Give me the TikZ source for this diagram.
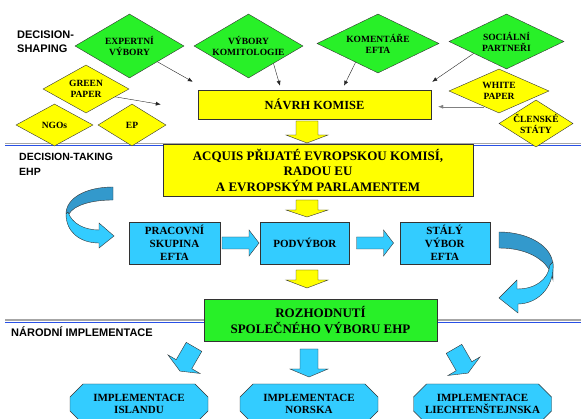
\documentclass[tikz,border=0pt]{standalone}
\usepackage{fontspec}
\setmainfont{Liberation Serif}
\setsansfont{Liberation Sans}
\definecolor{zelena}{RGB}{40,240,40}
\definecolor{zluta}{RGB}{255,255,0}
\definecolor{modra}{RGB}{51,204,255}
\definecolor{tmodra}{RGB}{51,153,204}
\definecolor{cara}{RGB}{40,80,230}
\usetikzlibrary{arrows.meta, positioning, shapes.geometric, shapes.misc}

\tikzset{
  pics/blok/.style n args={4}{code={
    \path[pic actions] (-#1/2,-#2/2) -- ({#1/2-#4},-#2/2) -- ({#1/2-#4},-#3/2) -- (#1/2,0)
      -- ({#1/2-#4},#3/2) -- ({#1/2-#4},#2/2) -- (-#1/2,#2/2) -- cycle;
  }}
}

\begin{document}
\begin{tikzpicture}[x=1pt, y=-1pt, thin, inner sep=0pt,
  dia/.style={diamond, draw=black!80, aspect=1.7, inner sep=-2pt, align=center,
    font=\fontsize{9.5}{11}\selectfont\bfseries},
  box/.style={rectangle, draw=black!80, align=center},
  okt/.style={chamfered rectangle, chamfered rectangle xsep=12pt, draw=black!80, fill=modra,
    minimum width=138pt, minimum height=40pt, align=center, font=\fontsize{11}{12.5}\selectfont\bfseries},
  hlava/.style={anchor=west, align=left, font=\sffamily\bfseries\fontsize{11}{14}\selectfont},
  sipka/.style={-{Latex[length=5pt,width=4pt]}, black!85},
  yarr/.style={draw=black!80, fill=zluta, rotate=-90},
  barr/.style={draw=black!80, fill=modra}]

\clip (0,0) rectangle (581,419);

% separators
\draw[gray!70, line width=1.2pt] (5,143.5) -- (581,143.5);
\draw[cara, line width=0.9pt] (5,145.7) -- (581,145.7);
\draw[gray!70, line width=1.2pt] (5,320) -- (581,320);
\draw[cara, line width=0.9pt] (5,322.2) -- (581,322.2);

% decision-shaping
\node[hlava] (hs) at (17,42) {DECISION-\\SHAPING};
\node[dia, fill=zelena, minimum width=109pt, minimum height=64pt] (exp) at (129.5,46) {EXPERTNÍ\\VÝBORY};
\node[dia, fill=zelena, minimum width=109pt, minimum height=64pt] (kom) at (248.5,46) {VÝBORY\\KOMITOLOGIE};
\node[dia, fill=zelena, minimum width=122pt, minimum height=59pt, aspect=2] (kef) at (378,43.5) {KOMENTÁŘE\\EFTA};
\node[dia, fill=zelena, minimum width=115pt, minimum height=55pt, aspect=2] (soc) at (506.5,41.5) {SOCIÁLNÍ\\PARTNEŘI};
\node[dia, fill=zluta, minimum width=86pt, minimum height=48pt] (gp) at (86,89) {GREEN\\PAPER};
\node[dia, fill=zluta, minimum width=77pt, minimum height=42pt] (ngo) at (54.5,125) {NGOs};
\node[dia, fill=zluta, minimum width=68pt, minimum height=42pt] (ep) at (132,125) {EP};
\node[dia, fill=zluta, minimum width=100pt, minimum height=44pt, aspect=2.2] (wp) at (499,91) {WHITE\\PAPER};
\node[dia, fill=zluta, minimum width=74pt, minimum height=47pt, aspect=1.5] (cs) at (536,123.5) {ČLENSKÉ\\STÁTY};
\node[box, fill=zluta, minimum width=233pt, minimum height=29pt,
  font=\fontsize{12.4}{14}\selectfont\bfseries] (navrh) at (314.5,104.5) {NÁVRH KOMISE};

\draw[sipka] (exp) -- ([shift={(-5,-8)}]navrh.north west);
\draw[sipka] (kom.-35) -- ([shift={(-34.5,-4)}]navrh.north);
\draw[sipka] (kef.-140) -- ([shift={(29.5,-4)}]navrh.north);
\draw[sipka] (soc.-160) -- ([shift={(1,-8)}]navrh.north east);
\draw[sipka] (gp.-15) -- ([xshift=-37]navrh.west);
\draw[sipka, gray] (wp.-133) -- ([xshift=7]navrh.east |- wp.-133);

% decision-taking
\node[hlava, font=\sffamily\bfseries\fontsize{10.5}{15}\selectfont] (ht) at (19,164.5) {DECISION-TAKING\\EHP};
\node[box, fill=zluta, minimum width=310pt, minimum height=52pt,
  font=\fontsize{13}{15.5}\selectfont\bfseries] (acq) at (318,170)
  {ACQUIS PŘIJATÉ EVROPSKOU KOMISÍ,\\RADOU EU\\A EVROPSKÝM PARLAMENTEM};
\pic[yarr] at (307,132) {blok={22}{22}{42}{8}};

\node[box, fill=modra, minimum width=91pt, minimum height=42pt,
  font=\fontsize{11}{13}\selectfont\bfseries] (prac) at (174.5,243) {PRACOVNÍ\\SKUPINA\\EFTA};
\node[box, fill=modra, minimum width=89pt, minimum height=42pt,
  font=\fontsize{11}{13}\selectfont\bfseries] (podv) [right=40pt of prac] {PODVÝBOR};
\node[box, fill=modra, minimum width=90pt, minimum height=42pt,
  font=\fontsize{11}{13}\selectfont\bfseries] (stal) [right=50pt of podv] {STÁLÝ\\VÝBOR\\EFTA};
\pic[yarr] at (307,208.5) {blok={17}{22}{42}{7}};
\pic[barr] at (240.5,243) {blok={37}{12}{26}{10}};
\pic[barr] at (375,243) {blok={37}{12}{26}{10}};

% curved arrows
\filldraw[draw=black!80, fill=tmodra] (113,187) -- (113,200)
  .. controls (92,200) and (74,205) .. (69,214) -- (66,214)
  .. controls (66,198) and (86,187) .. (113,187) -- cycle;
\filldraw[draw=black!80, fill=modra] (68,212) .. controls (72,224) and (85,230) .. (99,230)
  -- (99,223) -- (114,236) -- (99,248) -- (99,243)
  .. controls (80,243) and (66,232) .. (66,214) -- cycle;
\filldraw[draw=black!80, fill=tmodra] (499,232) .. controls (528,232) and (553,246) .. (553,266)
  -- (553,280) .. controls (550,262) and (530,248) .. (499,248) -- cycle;
\filldraw[draw=black!80, fill=modra] (553,262) .. controls (555,290) and (535,304) .. (518,304)
  -- (518,313) -- (499,298) -- (517,280) -- (517,289)
  .. controls (535,289) and (548,280) .. (550,265) -- cycle;

% rozhodnuti
\pic[yarr] at (307,279) {blok={18}{22}{42}{8}};
\node[box, fill=zelena, minimum width=233pt, minimum height=42pt,
  font=\fontsize{13}{16}\selectfont\bfseries] (rozh) at (320.5,320) {ROZHODNUTÍ\\SPOLEČNÉHO VÝBORU EHP};

% narodni implementace
\node[hlava] (hn) at (11,332) {NÁRODNÍ IMPLEMENTACE};
\pic[barr, rotate=240] at (187,359) {blok={28}{18}{37}{8}};
\pic[barr, rotate=-90] at (309,363) {blok={28}{18}{38}{8}};
\pic[barr, rotate=300] at (461,361) {blok={28}{18}{37}{8}};
\node[okt] (isl) at (139,404) {IMPLEMENTACE\\ISLANDU};
\node[okt] (nor) at (309,404) {IMPLEMENTACE\\NORSKA};
\node[okt] (lie) at (482.5,404) {IMPLEMENTACE\\LIECHTENŠTEJNSKA};

\end{tikzpicture}
\end{document}
